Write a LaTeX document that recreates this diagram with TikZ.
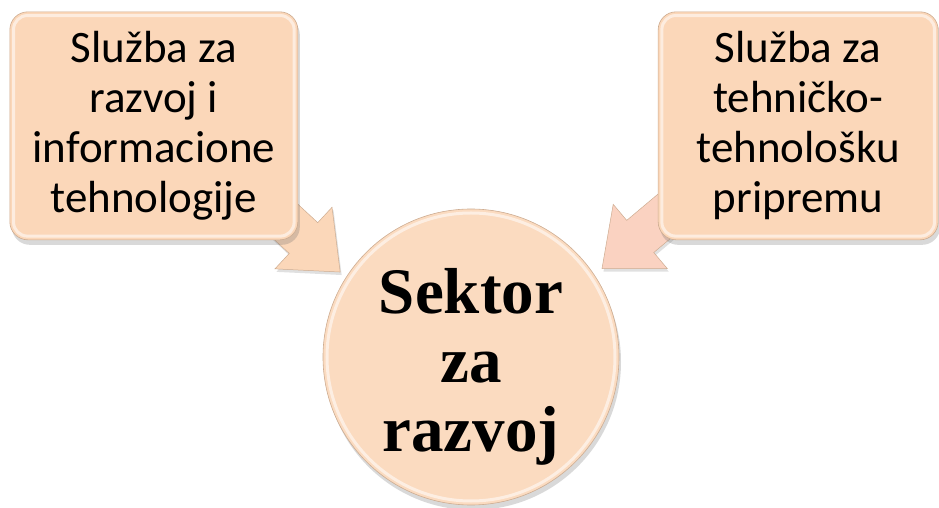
\documentclass[tikz,border=0pt]{standalone}
\usepackage{fontspec}
\setmainfont{Carlito}
\newfontfamily\sektorfont{Liberation Serif}
\usetikzlibrary{positioning,calc,shadows,backgrounds}

\definecolor{peach}{RGB}{251,215,185}
\definecolor{blush}{RGB}{250,210,193}
\definecolor{rim}{RGB}{205,172,145}

\tikzset{
  unit/.style={draw=rim, line width=0.6pt, fill=peach, rounded corners=18pt,
    minimum height=228pt, align=center, inner sep=0pt,
    font=\fontsize{45}{50}\selectfont,
    drop shadow={shadow xshift=2pt, shadow yshift=-5pt, opacity=0.25, fill=black!60}},
  hub/.style={circle, draw=rim, line width=0.6pt, fill=peach!90!white,
    minimum size=296pt, inner sep=0pt, align=center,
    font=\sektorfont\bfseries\fontsize{65}{69}\selectfont,
    drop shadow={shadow xshift=2pt, shadow yshift=-5pt, opacity=0.25, fill=black!60}},
  gloss/.style={draw=white, line width=3pt, opacity=0.55},
  fat/.style={draw=rim, line width=0.5pt, fill=#1,
    drop shadow={shadow xshift=1.5pt, shadow yshift=-3pt, opacity=0.2, fill=black!60}}
}

% block arrow: start, tip, fill colour
\newcommand{\blockarrow}[3]{%
  \coordinate (hb) at ($(#2)!50pt!(#1)$);
  \path[fat=#3] ($(#1)!21pt!90:(#2)$) -- ($(hb)!21pt!90:(#2)$)
    -- ($(hb)!42pt!90:(#2)$) -- (#2) -- ($(hb)!42pt!-90:(#2)$)
    -- ($(hb)!21pt!-90:(#2)$) -- ($(#1)!21pt!-90:(#2)$) -- cycle;
}

\begin{document}
\begin{tikzpicture}[x=1pt, y=1pt]
  \useasboundingbox (-471,-151) rectangle (468,357);
  % Define nodes
  \node[hub] (sektor) at (0,0) {\rule{0pt}{64pt}Sektor\\za\\razvoj};
  \node[unit, minimum width=288pt, above left=12pt and 68pt of sektor] (lbox)
    {Služba za\\razvoj i\\informacione\\tehnologije};
  \node[unit, minimum width=280pt, above right=12pt and 82pt of sektor] (rbox)
    {Služba za\\tehničko-\\tehnološku\\pripremu};
  % Highlights
  \foreach \b in {lbox, rbox}
    \draw[gloss, rounded corners=14pt] ([shift={(4pt,-4pt)}]\b.north west)
      rectangle ([shift={(-4pt,4pt)}]\b.south east);
  \draw[gloss] (sektor.center) circle[radius=144pt];
  % Connect nodes
  \coordinate (ltip) at ($(sektor.center)!156pt!(sektor.147)$);
  \coordinate (rtip) at ($(sektor.center)!158pt!(sektor.34)$);
  \begin{scope}[on background layer]
    \blockarrow{$(lbox.center)+(49,-19)$}{ltip}{peach}
    \blockarrow{$(rbox.center)+(-49,-19)$}{rtip}{blush}
  \end{scope}
\end{tikzpicture}
\end{document}
